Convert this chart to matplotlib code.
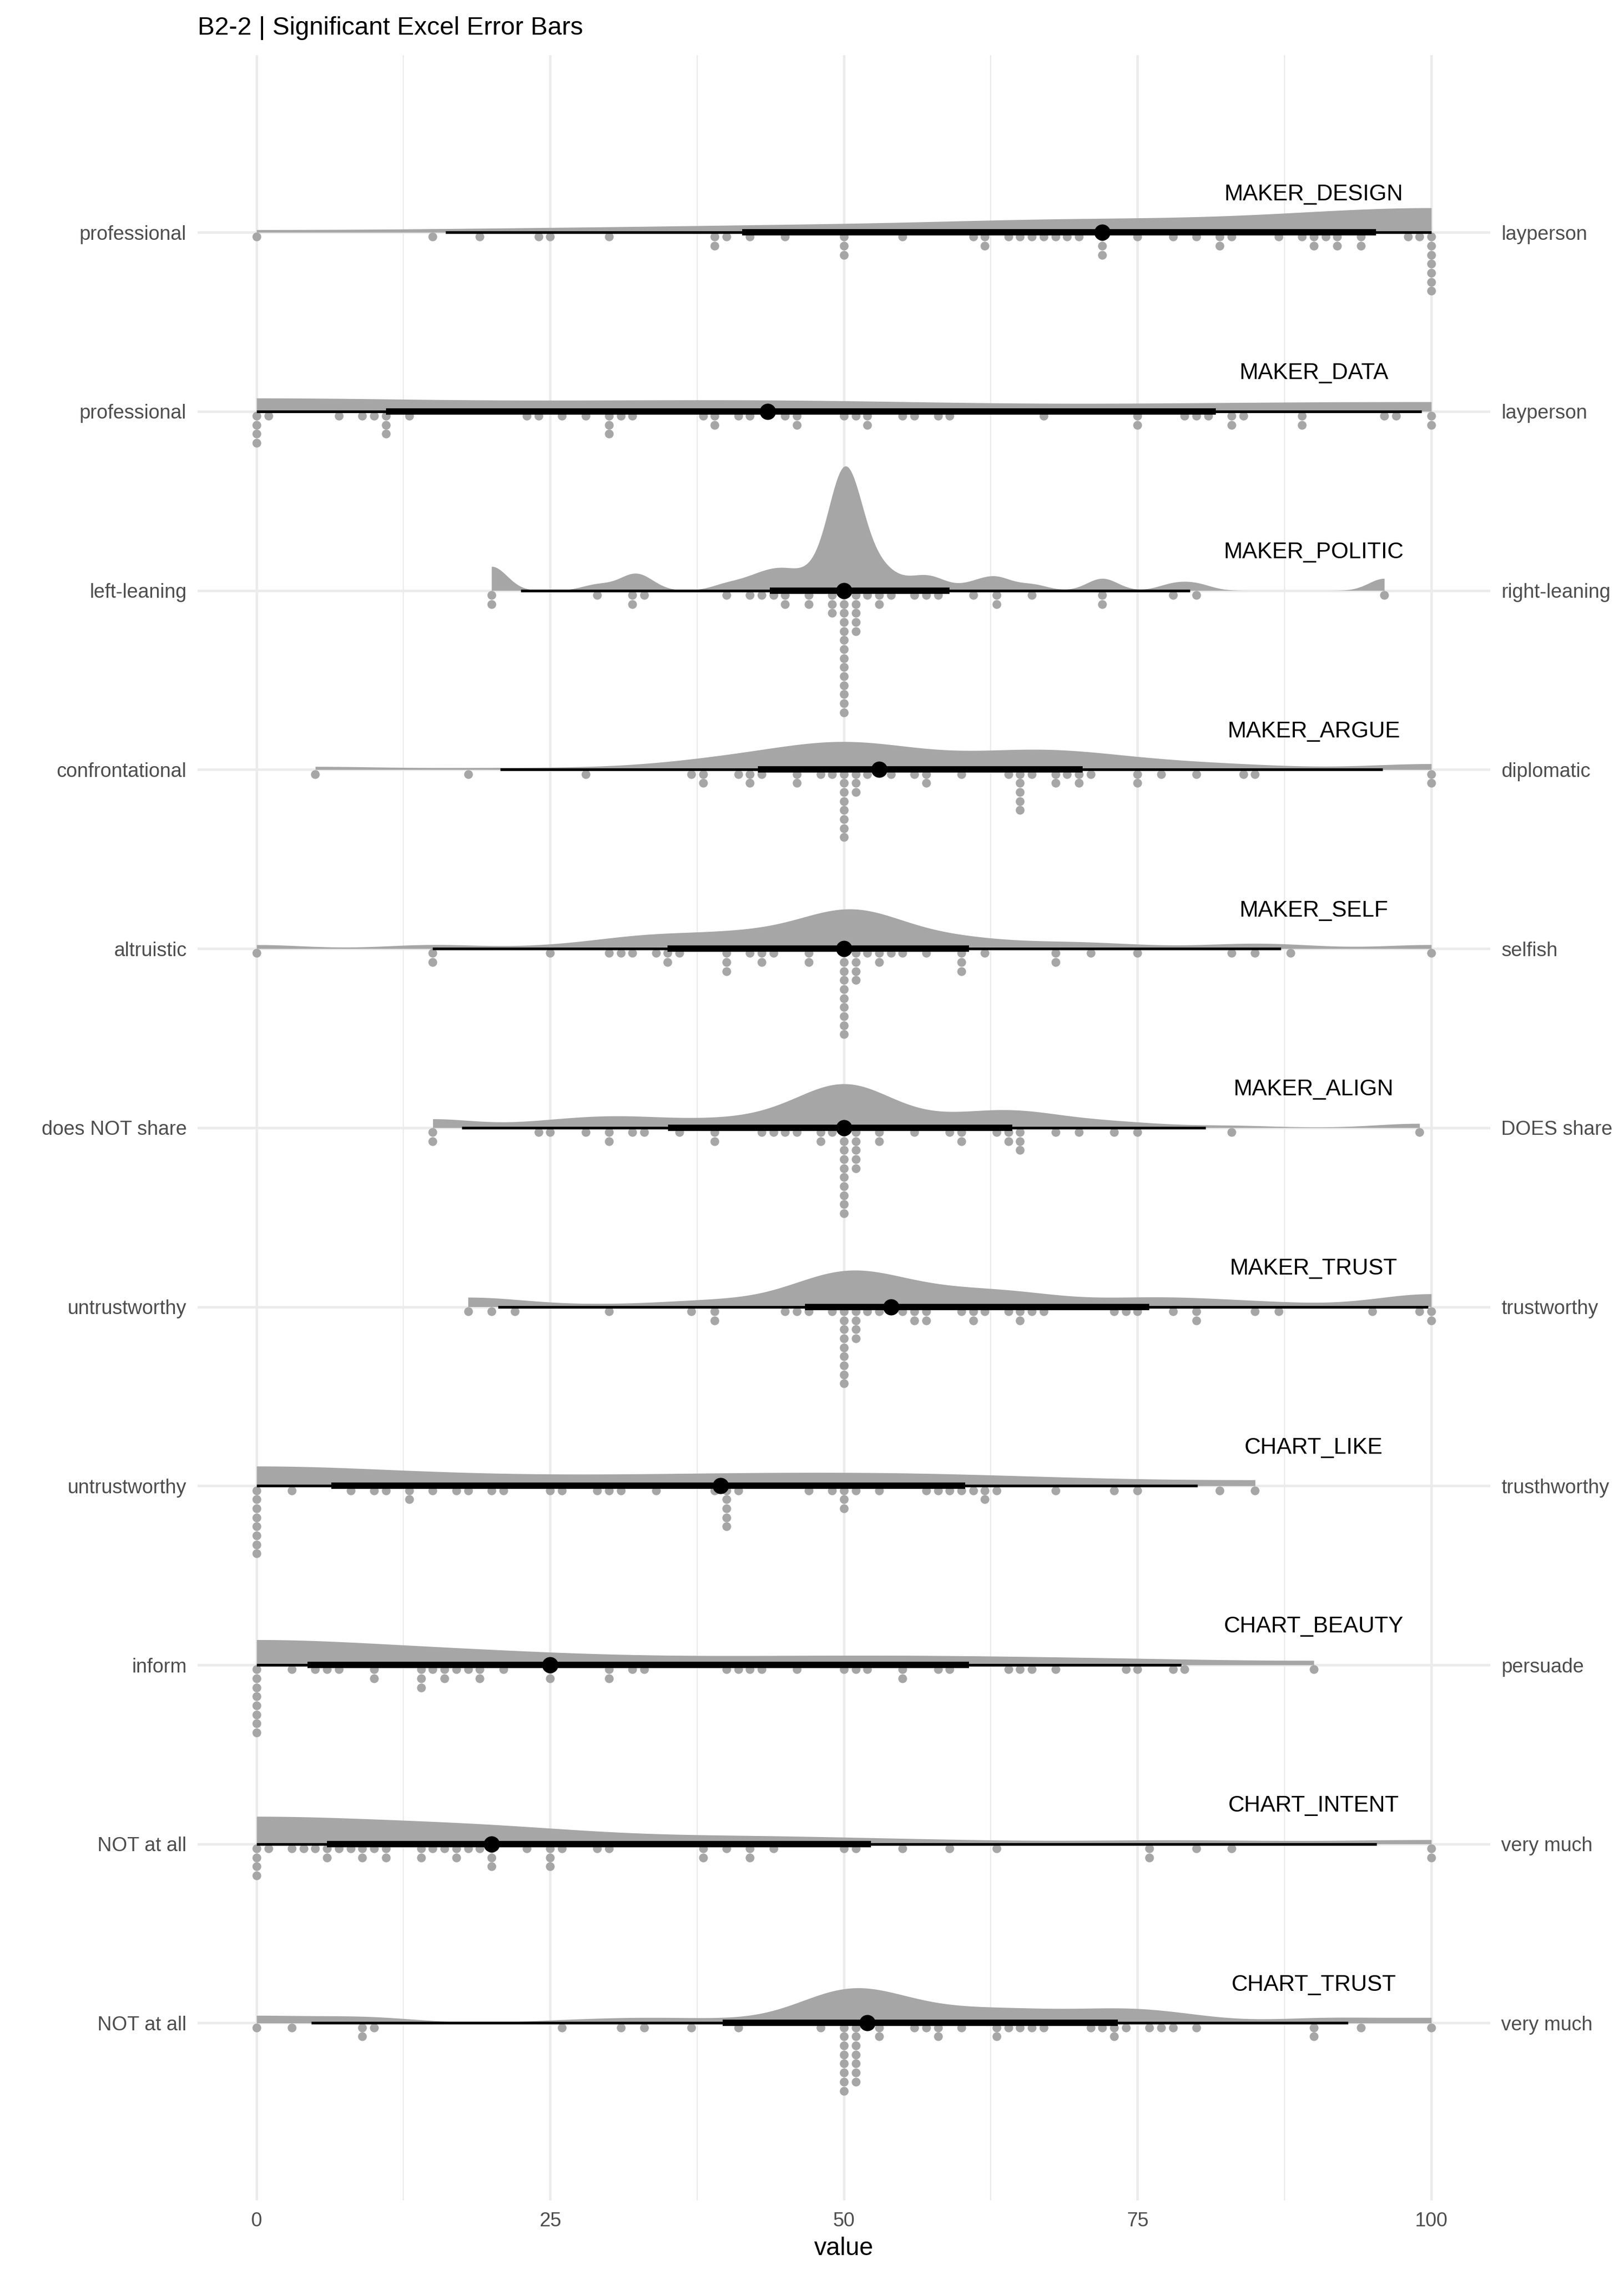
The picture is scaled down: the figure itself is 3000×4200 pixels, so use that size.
import numpy as np
import matplotlib
matplotlib.use("Agg")
import matplotlib.pyplot as plt

plt.rcParams['font.family'] = ['Liberation Sans', 'DejaVu Sans']

# ---------------- data ----------------
title = "B2-2 | Significant Excel Error Bars"
x_label = "value"
x_ticks = [0, 25, 50, 75, 100]
x_tick_labels = ["0", "25", "50", "75", "100"]

row_names = ["MAKER_DESIGN", "MAKER_DATA", "MAKER_POLITIC", "MAKER_ARGUE", "MAKER_SELF",
             "MAKER_ALIGN", "MAKER_TRUST", "CHART_LIKE", "CHART_BEAUTY", "CHART_INTENT",
             "CHART_TRUST"]
left_labels = ["professional", "professional", "left-leaning", "confrontational", "altruistic",
               "does NOT share", "untrustworthy", "untrustworthy", "inform", "NOT at all",
               "NOT at all"]
right_labels = ["layperson", "layperson", "right-leaning", "diplomatic", "selfish",
                "DOES share", "trustworthy", "trusthworthy", "persuade", "very much",
                "very much"]

MAKER_DESIGN = [0, 15, 19, 24, 25, 30, 39, 39, 40, 42, 45, 50, 50, 50, 55, 61, 62, 62, 64, 65,
                66, 67, 68, 69, 70, 72, 72, 72, 75, 78, 80, 82, 82, 83, 87, 89, 90, 90, 91, 92,
                92, 94, 94, 98, 99, 100, 100, 100, 100, 100, 100, 100]
MAKER_DATA = [0, 0, 0, 0, 1, 7, 9, 10, 11, 11, 11, 13, 23, 24, 26, 28, 30, 30, 30, 31, 32, 38,
              39, 39, 41, 42, 45, 46, 46, 50, 51, 52, 52, 55, 56, 58, 59, 67, 75, 75, 79, 80,
              81, 83, 83, 84, 89, 89, 96, 97, 100, 100]
MAKER_POLITIC = [20, 20, 29, 32, 32, 33, 40, 42, 43, 44, 45, 45, 47, 47, 49, 49, 49,
                 50, 50, 50, 50, 50, 50, 50, 50, 50, 50, 50, 50, 50, 50,
                 51, 51, 51, 51, 51, 52, 53, 53, 54, 56, 57, 58, 61, 63, 63, 66, 72, 72, 78,
                 80, 96]
MAKER_ARGUE = [5, 18, 28, 37, 38, 38, 41, 42, 42, 43, 46, 46, 48, 49,
               50, 50, 50, 50, 50, 50, 50, 50,
               51, 51, 51, 52, 54, 56, 57, 57, 60, 64, 65, 65, 65, 65, 65,
               66, 68, 68, 69, 70, 70, 71, 75, 75, 77, 80, 84, 85, 100, 100]
MAKER_SELF = [0, 15, 15, 25, 30, 31, 32, 34, 35, 35, 36, 40, 40, 40, 42, 43, 43, 44, 47, 47,
              50, 50, 50, 50, 50, 50, 50, 50, 50, 50,
              51, 51, 51, 51, 52, 53, 53, 54, 55, 57, 60, 60, 60, 62, 68, 68, 71, 75, 83, 85,
              88, 100]
MAKER_ALIGN = [15, 15, 24, 25, 28, 30, 30, 32, 33, 36, 39, 39, 43, 44, 45, 46, 48, 48, 49,
               50, 50, 50, 50, 50, 50, 50, 50, 50, 50,
               51, 51, 51, 51, 51, 53, 53, 56, 59, 60, 60, 63, 64, 64, 65, 65, 65, 68, 70, 73,
               75, 83, 99]
MAKER_TRUST = [18, 20, 22, 30, 37, 39, 39, 45, 46, 47, 49,
               50, 50, 50, 50, 50, 50, 50, 50, 50,
               51, 51, 51, 51, 52, 53, 55, 56, 56, 57, 57, 60, 61, 61, 62, 64, 65, 65, 66, 67,
               73, 74, 75, 78, 80, 80, 85, 87, 95, 99, 100, 100]
CHART_LIKE = [0, 0, 0, 0, 0, 0, 0, 0, 3, 8, 10, 11, 13, 13, 15, 17, 18, 20, 21, 25, 26, 29, 30,
              31, 34, 39, 40, 40, 40, 40, 40, 41, 47, 49, 50, 50, 50, 51, 53, 57, 58, 59, 60,
              61, 62, 62, 63, 68, 73, 75, 82, 85]
CHART_BEAUTY = [0, 0, 0, 0, 0, 0, 0, 0, 3, 5, 6, 7, 10, 10, 14, 14, 14, 15, 16, 16, 17, 18, 19,
                19, 21, 25, 25, 30, 30, 32, 33, 40, 41, 42, 43, 46, 50, 51, 52, 55, 55, 58, 59,
                64, 65, 66, 68, 74, 75, 78, 79, 90]
CHART_INTENT = [0, 0, 0, 0, 1, 3, 4, 5, 6, 6, 7, 8, 9, 9, 10, 11, 11, 14, 14, 15, 16, 17, 17,
                18, 19, 20, 20, 20, 23, 25, 25, 25, 26, 29, 30, 38, 38, 40, 42, 42, 44, 50, 51,
                55, 59, 63, 76, 76, 80, 83, 100, 100]
CHART_TRUST = [0, 3, 9, 9, 10, 26, 31, 33, 37, 41, 48,
               50, 50, 50, 50, 50, 50, 50, 50,
               51, 51, 51, 51, 51, 51, 51,
               53, 53, 56, 57, 58, 58, 60, 63, 63, 64, 65, 66, 67, 71, 72, 73, 73, 74, 76, 77,
               78, 80, 90, 90, 94, 100]

rows = [MAKER_DESIGN, MAKER_DATA, MAKER_POLITIC, MAKER_ARGUE, MAKER_SELF, MAKER_ALIGN,
        MAKER_TRUST, CHART_LIKE, CHART_BEAUTY, CHART_INTENT, CHART_TRUST]

# ---------------- helpers ----------------
def bw_sj_dpi(x):
    x = np.asarray(x, float)
    n = len(x)
    i, j = np.triu_indices(n, 1)
    d = np.abs(x[i] - x[j])

    def phi4(h):
        delta = (d / h) ** 2
        s = np.sum(np.exp(-delta / 2) * (delta ** 2 - 6 * delta + 3))
        s = 2 * s + 3 * n
        return s / (n * (n - 1) * h ** 5 * np.sqrt(2 * np.pi))

    def phi6(h):
        delta = (d / h) ** 2
        s = np.sum(np.exp(-delta / 2) * (delta ** 3 - 15 * delta ** 2 + 45 * delta - 15))
        s = 2 * s - 15 * n
        return s / (n * (n - 1) * h ** 7 * np.sqrt(2 * np.pi))

    q75, q25 = np.percentile(x, [75, 25])
    scale = min(np.std(x, ddof=1), (q75 - q25) / 1.349)
    b = 1.23 * scale * n ** (-1 / 9)
    c1 = 1 / (2 * np.sqrt(np.pi) * n)
    td = -phi6(b)
    alph2 = (2.394 / (n * td)) ** (1 / 7)
    return (c1 / phi4(alph2)) ** (1 / 5)


def bounded_kde(x, grid, h):
    x = np.asarray(x, float)
    lo, hi = x.min(), x.max()
    pts = np.concatenate([x, 2 * lo - x, 2 * hi - x])
    z = (grid[:, None] - pts[None, :]) / h
    return np.exp(-0.5 * z ** 2).sum(axis=1) / (len(x) * h * np.sqrt(2 * np.pi))


# ---------------- figure ----------------
GREY = "#A6A6A6"
GRID = "#EBEBEB"
n_rows = len(rows)
ypos = [n_rows - 1 - k for k in range(n_rows)]

fig = plt.figure(figsize=(10, 14), dpi=300)
ax_left, ax_right = 0.1218, 0.9175
ax_bot, ax_top = 0.0324, 0.9758
ax = fig.add_axes([ax_left, ax_bot, ax_right - ax_left, ax_top - ax_bot])
ax.set_xlim(-5, 105)
ax.set_ylim(-0.99, n_rows - 1 + 0.99)

# densities
dens = []
for vals in rows:
    v = np.asarray(vals, float)
    grid = np.linspace(v.min(), v.max(), 501)
    h = bw_sj_dpi(v)
    dens.append((grid, bounded_kde(v, grid, h)))
gmax = max(f.max() for _, f in dens)
slab_height = 0.695

step = 0.0504
for vals, y0, (grid, f) in zip(rows, ypos, dens):
    ax.fill_between(grid, y0, y0 + f / gmax * slab_height, color=GREY, lw=0, zorder=2)
    uniq, cnt = np.unique(np.asarray(vals, float), return_counts=True)
    xs, ys = [], []
    for u, c in zip(uniq, cnt):
        for k in range(c):
            xs.append(u)
            ys.append(y0 - (k + 0.5) * step)
    ax.scatter(xs, ys, s=3.9 ** 2, color=GREY, lw=0, zorder=3)
    q = np.quantile(np.asarray(vals, float), [0.025, 0.17, 0.83, 0.975])
    med = np.median(vals)
    ax.plot([q[0], q[3]], [y0, y0], color="black", lw=1.2, solid_capstyle="butt", zorder=4)
    ax.plot([q[1], q[2]], [y0, y0], color="black", lw=2.8, solid_capstyle="butt", zorder=5)
    ax.plot([med], [y0], "o", color="black", ms=7.2, mew=0, zorder=6)

for name, y0 in zip(row_names, ypos):
    ax.text(90, y0 + 0.180, name, ha="center", va="baseline", fontsize=10.0, color="black",
            zorder=7)

# axes styling
ax.set_xticks(x_ticks)
ax.set_xticklabels(x_tick_labels)
ax.set_xticks([12.5, 37.5, 62.5, 87.5], minor=True)
ax.set_yticks(ypos)
ax.set_yticklabels(left_labels)
ax.tick_params(axis="both", which="both", length=0, pad=4.95, labelsize=8.8,
               labelcolor="#4D4D4D")
ax.grid(which="major", axis="both", color=GRID, lw=1.1)
ax.grid(which="minor", axis="x", color=GRID, lw=0.55)
ax.set_axisbelow(True)
for s in ax.spines.values():
    s.set_visible(False)
ax.set_xlabel(x_label, fontsize=11, color="black", labelpad=2.75)

ax2 = ax.twinx()
ax2.set_ylim(ax.get_ylim())
ax2.set_yticks(ypos)
ax2.set_yticklabels(right_labels)
ax2.tick_params(axis="y", length=0, pad=4.95, labelsize=8.8, labelcolor="#4D4D4D")
for s in ax2.spines.values():
    s.set_visible(False)

fig.text(ax_left, 1 - 64 / 4200, title, fontsize=11.3, ha="left", va="baseline", color="black")

fig.savefig("out.png", dpi=300, facecolor="white")
